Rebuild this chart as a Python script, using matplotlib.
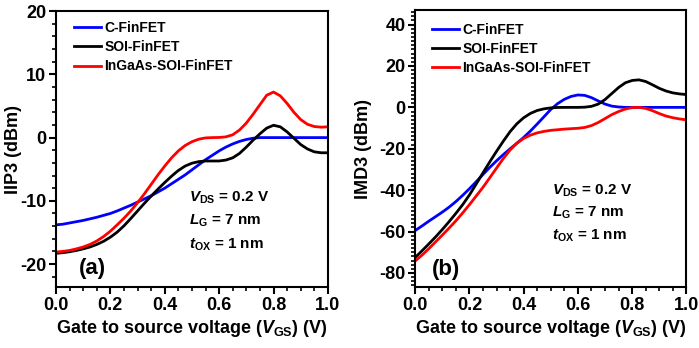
import matplotlib
matplotlib.use("Agg")
import matplotlib.pyplot as plt
from matplotlib.ticker import MultipleLocator, FormatStrFormatter

plt.rcParams['font.family'] = ['Liberation Sans', 'DejaVu Sans']
plt.rcParams['font.weight'] = 'bold'
plt.rcParams['axes.unicode_minus'] = False
plt.rcParams['mathtext.fontset'] = 'custom'
plt.rcParams['mathtext.rm'] = 'Liberation Sans:bold'
plt.rcParams['mathtext.bf'] = 'Liberation Sans:bold'
plt.rcParams['mathtext.it'] = 'Liberation Sans:italic:bold'

# ---- data ----
vgs = [0.000, 0.025, 0.050, 0.075, 0.100, 0.125, 0.150, 0.175, 0.200, 0.225,
       0.250, 0.275, 0.300, 0.325, 0.350, 0.375, 0.400, 0.425, 0.450, 0.475,
       0.500, 0.525, 0.550, 0.575, 0.600, 0.625, 0.650, 0.675, 0.700, 0.725,
       0.750, 0.775, 0.800, 0.825, 0.850, 0.875, 0.900, 0.925, 0.950, 0.975,
       1.000]

labels = ['C-FinFET', 'SOI-FinFET', 'InGaAs-SOI-FinFET']

iip3_c = [-13.8, -13.7, -13.5, -13.3, -13.1, -12.85, -12.6, -12.3, -12.0, -11.6,
          -11.15, -10.7, -10.2, -9.7, -9.2, -8.6, -8.0, -7.3, -6.6, -5.9,
          -5.1, -4.3, -3.5, -2.8, -2.1, -1.5, -1.0, -0.6, -0.3, -0.1,
          0.0, 0.0, 0.0, 0.0, 0.0, 0.0, 0.0, 0.0, 0.0, 0.0,
          0.0]
iip3_soi = [-18.3, -18.2, -18.05, -17.85, -17.6, -17.3, -16.9, -16.4, -15.75, -14.95,
            -13.95, -12.8, -11.6, -10.4, -9.25, -8.15, -7.1, -6.1, -5.2, -4.5,
            -4.05, -3.8, -3.7, -3.7, -3.7, -3.55, -3.2, -2.5, -1.5, -0.4,
            0.6, 1.5, 1.95, 1.7, 0.9, -0.1, -1.1, -1.8, -2.25, -2.4,
            -2.4]
iip3_ingaas = [-18.1, -18.0, -17.85, -17.6, -17.3, -16.9, -16.35, -15.65, -14.8, -13.8,
               -12.75, -11.6, -10.3, -8.9, -7.4, -5.9, -4.5, -3.2, -2.1, -1.25,
               -0.65, -0.25, -0.05, 0.0, 0.02, 0.12, 0.45, 1.2, 2.3, 3.7,
               5.2, 6.7, 7.2, 6.6, 5.4, 4.0, 2.85, 2.1, 1.75, 1.65,
               1.7]

imd3_c = [-59.5, -57.3, -55.0, -52.8, -50.6, -48.2, -45.5, -42.5, -39.3, -35.9,
          -32.4, -29.0, -25.8, -22.8, -20.0, -17.3, -14.5, -11.4, -8.0, -4.5,
          -1.0, 1.8, 3.9, 5.3, 6.0, 5.8, 4.7, 3.1, 1.6, 0.6,
          0.2, 0.0, 0.0, 0.0, 0.0, 0.0, 0.0, 0.0, 0.0, 0.0,
          0.0]
imd3_soi = [-72.5, -69.3, -66.0, -62.6, -59.0, -55.2, -51.2, -47.0, -42.3, -37.0,
            -31.6, -26.3, -21.2, -16.3, -11.7, -7.9, -5.0, -2.9, -1.5, -0.7,
            -0.25, -0.05, 0.0, 0.0, 0.0, 0.1, 0.5, 1.6, 3.8, 6.7,
            9.6, 11.9, 13.0, 13.3, 12.5, 10.9, 9.2, 7.9, 7.0, 6.5,
            6.2]
imd3_ingaas = [-74.2, -71.4, -68.3, -65.0, -61.7, -58.3, -54.8, -51.0, -47.0, -42.8,
               -38.6, -34.0, -29.3, -24.7, -20.6, -17.3, -15.0, -13.4, -12.3, -11.6,
               -11.1, -10.8, -10.5, -10.3, -10.1, -9.7, -8.8, -7.3, -5.4, -3.5,
               -2.0, -0.8, -0.1, 0.0, -0.5, -1.6, -3.0, -4.2, -5.0, -5.6,
               -6.0]

colors = ['#0000ff', '#000000', '#ff0000']

fig = plt.figure(figsize=(6.99, 3.48), dpi=100)
axL = fig.add_axes([0.0801, 0.174, 0.389, 0.794])
axR = fig.add_axes([0.594, 0.174, 0.388, 0.797])

def style(ax, ylim, ymaj, ymin_):
    ax.set_xlim(0, 1.0)
    ax.set_ylim(*ylim)
    ax.xaxis.set_major_locator(MultipleLocator(0.2))
    ax.xaxis.set_minor_locator(MultipleLocator(0.05))
    ax.yaxis.set_major_locator(MultipleLocator(ymaj))
    ax.yaxis.set_minor_locator(MultipleLocator(ymin_))
    ax.tick_params(which='major', direction='out', length=5, width=1.5, labelsize=13, pad=2)
    ax.tick_params(which='minor', direction='out', length=3, width=1.2)
    ax.xaxis.set_major_formatter(FormatStrFormatter('%.1f'))
    ax.yaxis.set_major_formatter(FormatStrFormatter('%d'))
    for s in ax.spines.values():
        s.set_linewidth(1.5)
    for lab in ax.get_xticklabels() + ax.get_yticklabels():
        lab.set_fontweight('bold')
    ax.set_xlabel(r'Gate to source voltage ($\it{V}_{\rm{GS}}$) (V)', fontsize=13,
                  fontweight='bold', labelpad=3)

style(axL, (-23.7, 20), 10, 2)
style(axR, (-87, 47), 20, 2)

for ys, c, l in zip([iip3_c, iip3_soi, iip3_ingaas], colors, labels):
    axL.plot(vgs, ys, color=c, lw=2.0, label=l)
for ys, c, l in zip([imd3_c, imd3_soi, imd3_ingaas], colors, labels):
    axR.plot(vgs, ys, color=c, lw=2.0, label=l)

axL.set_ylabel('IIP3 (dBm)', fontsize=13, fontweight='bold')
axR.set_ylabel('IMD3 (dBm)', fontsize=13, fontweight='bold')
axL.yaxis.set_label_coords(-0.125, 0.5)
axR.yaxis.set_label_coords(-0.16, 0.5)

for ax, anchor in [(axL, (0.03, 1.0)), (axR, (0.025, 0.99))]:
    leg = ax.legend(loc='upper left', bbox_to_anchor=anchor, frameon=False,
                    fontsize=10, handlelength=1.95, handletextpad=0.25,
                    labelspacing=0.38, borderaxespad=0.3)
    for t in leg.get_texts():
        t.set_fontweight('bold')
    for h in leg.get_lines():
        h.set_linewidth(2.0)

def annot(ax, x, ys):
    ax.text(x, ys[0], r'$\it{V}_{\rm{DS}}$ = 0.2 V', transform=ax.transAxes,
            fontsize=11, fontweight='bold', va='baseline')
    ax.text(x, ys[1], r'$\it{L}_{\rm{G}}$ = 7 nm', transform=ax.transAxes,
            fontsize=11, fontweight='bold', va='baseline')
    ax.text(x, ys[2], r'$\it{t}_{\rm{OX}}$ = 1 nm', transform=ax.transAxes,
            fontsize=11, fontweight='bold', va='baseline')

annot(axL, 0.49, (0.310, 0.226, 0.139))
annot(axR, 0.505, (0.333, 0.254, 0.174))

axL.text(0.085, 0.049, '(a)', transform=axL.transAxes, fontsize=16,
         fontweight='bold', va='baseline')
axR.text(0.06, 0.044, '(b)', transform=axR.transAxes, fontsize=16,
         fontweight='bold', va='baseline')

fig.savefig('out.png', dpi=100)
